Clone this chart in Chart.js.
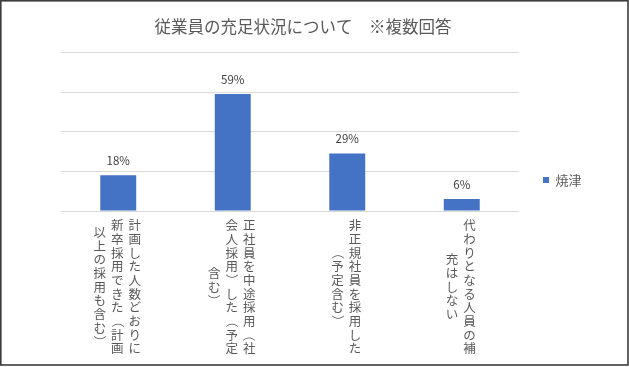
<!DOCTYPE html>
<html>
<head>
<meta charset="utf-8">
<script src="https://cdn.jsdelivr.net/npm/chart.js@4/dist/chart.umd.min.js"></script>
<style>
  html, body { margin: 0; padding: 0; background: #ffffff; }
  #wrap { width: 629px; height: 367px; }
</style>
</head>
<body>
<div id="wrap"><canvas id="c" width="629" height="367"></canvas></div>
<script>
const chartTitle = "従業員の充足状況について　※複数回答";
const categories = [
  "計画した人数どおりに新卒採用できた（計画以上の採用も含む）",
  "正社員を中途採用（社会人採用）した（予定含む）",
  "非正規社員を採用した（予定含む）",
  "代わりとなる人員の補充はしない"
];
const seriesName = "焼津";
const values = [0.18, 0.59, 0.29, 0.06];
const yTicks = [0, 0.2, 0.4, 0.6, 0.8];

const JP = '"Noto Sans CJK JP", "Noto Sans", sans-serif';

const bgAndBorder = {
  id: 'bgAndBorder',
  beforeDraw(chart) {
    const ctx = chart.ctx;
    ctx.save();
    ctx.fillStyle = '#ffffff';
    ctx.fillRect(0, 0, chart.width, chart.height);
    ctx.restore();
  },
  afterDraw(chart) {
    const ctx = chart.ctx;
    ctx.save();
    ctx.strokeStyle = '#3c3c3c';
    ctx.lineWidth = 1.6;
    ctx.strokeRect(0.8, 0.8, 627.2, 364.2);
    ctx.restore();
  }
};

const valueLabels = {
  id: 'valueLabels',
  afterDatasetsDraw(chart) {
    const ctx = chart.ctx;
    ctx.save();
    ctx.font = '11.5px ' + JP;
    ctx.fillStyle = '#404040';
    ctx.textAlign = 'center';
    ctx.textBaseline = 'alphabetic';
    chart.getDatasetMeta(0).data.forEach((bar, i) => {
      const v = chart.data.datasets[0].data[i];
      ctx.fillText(Math.round(v * 100) + '%', bar.x, bar.y - 10.5);
    });
    ctx.restore();
  }
};

const verticalLabels = {
  id: 'verticalLabels',
  afterDraw(chart) {
    const ctx = chart.ctx, xs = chart.scales.x, ca = chart.chartArea;
    ctx.save();
    ctx.font = '12.5px ' + JP;
    ctx.fillStyle = '#595959';
    ctx.textAlign = 'center';
    ctx.textBaseline = 'middle';
    chart.data.labels.forEach((cat, i) => {
      const chars = Array.from(cat);
      const cols = [];
      for (let k = 0; k < chars.length; k += 10) cols.push(chars.slice(k, k + 10));
      const cx = xs.getPixelForValue(i);
      const cy = ca.bottom + 76;
      cols.forEach((col, j) => {
        const x = cx - 1 + ((cols.length - 1) / 2 - j) * 17.5;
        col.forEach((ch, m) => {
          const y = cy + (m - (col.length - 1) / 2) * 13.7;
          if ('（）'.includes(ch)) {
            ctx.save();
            ctx.translate(x, y);
            ctx.rotate(Math.PI / 2);
            ctx.fillText(ch, 0, 0);
            ctx.restore();
          } else {
            ctx.fillText(ch, x, y);
          }
        });
      });
    });
    ctx.restore();
  }
};

new Chart(document.getElementById('c'), {
  type: 'bar',
  data: {
    labels: categories,
    datasets: [{
      label: seriesName,
      data: values,
      backgroundColor: '#4472C4',
      borderWidth: 0,
      barPercentage: 0.314,
      categoryPercentage: 1
    }]
  },
  options: {
    responsive: false,
    animation: false,
    devicePixelRatio: 1,
    layout: { padding: { left: 14.5, right: 37.5, top: 0, bottom: 7 }, autoPadding: false },
    plugins: {
      title: {
        display: true,
        text: chartTitle,
        color: '#595959',
        font: { family: JP, size: 16.5, weight: 'normal' },
        padding: { top: 17, bottom: 15.7 }
      },
      legend: {
        display: true,
        position: 'right',
        align: 'center',
        labels: {
          boxWidth: 6,
          boxHeight: 6,
          padding: 24,
          color: '#595959',
          font: { family: JP, size: 13 }
        }
      },
      tooltip: { enabled: false }
    },
    scales: {
      x: {
        grid: { display: false },
        border: { display: true, color: '#D9D9D9', width: 1 },
        ticks: { display: false },
        afterFit(scale) { scale.height = 149; }
      },
      y: {
        min: yTicks[0],
        max: yTicks[yTicks.length - 1],
        afterBuildTicks(scale) { scale.ticks = yTicks.map(v => ({ value: v })); },
        grid: { color: '#D9D9D9', lineWidth: 1, drawTicks: false },
        border: { display: false },
        ticks: { display: false },
        afterFit(scale) { scale.width = 46.5; }
      }
    }
  },
  plugins: [verticalLabels, valueLabels, bgAndBorder]
});
</script>
</body>
</html>
